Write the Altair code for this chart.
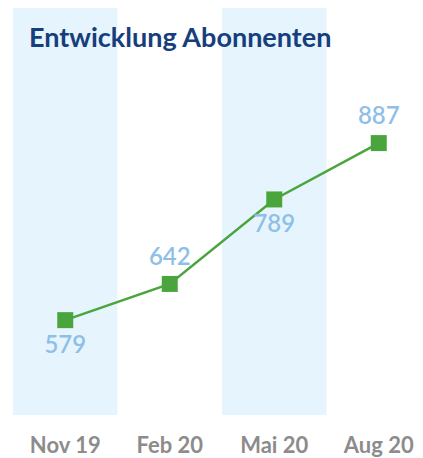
import altair as alt
import pandas as pd

months = ["Nov 19", "Feb 20", "Mai 20", "Aug 20"]
subscribers = [579, 642, 789, 887]
band_months = ["Nov 19", "Mai 20"]
labels_below = ["Nov 19", "Mai 20"]
labels_above = ["Feb 20", "Aug 20"]
title_text = "Entwicklung Abonnenten"

df = pd.DataFrame({"month": months, "value": subscribers})
bands = pd.DataFrame({"month": band_months})

FONT = "Lato"
GREEN = "#4aa53c"
LABEL = "#8fbfe7"

x_scale = alt.Scale(domain=months, range=[0, 418], paddingInner=0, paddingOuter=0)
x_axis = alt.Axis(title=None, domain=False, ticks=False, grid=False, labelAngle=0,
                  labelFont=FONT, labelFontSize=22, labelFontWeight="bold",
                  labelColor="#8c8c8c", labelPadding=20)
y_scale = alt.Scale(domain=[414, 1122], zero=False, nice=False)

band_layer = alt.Chart(bands).mark_rect(color="#e6f5fd").encode(
    x=alt.X("month:N", scale=x_scale, axis=x_axis, sort=months)
)

line = alt.Chart(df).mark_line(color=GREEN, strokeWidth=2.5).encode(
    x=alt.X("month:N", scale=x_scale, sort=months),
    y=alt.Y("value:Q", scale=y_scale, axis=None),
)
points = alt.Chart(df).mark_square(color=GREEN, size=256, opacity=1).encode(
    x=alt.X("month:N", scale=x_scale, sort=months),
    y=alt.Y("value:Q", scale=y_scale, axis=None),
)

below = alt.Chart(df).transform_filter(
    alt.FieldOneOfPredicate(field="month", oneOf=labels_below)
).mark_text(font=FONT, fontSize=24, fontWeight=600, color=LABEL, baseline="middle", dy=26).encode(
    x=alt.X("month:N", scale=x_scale, sort=months),
    y=alt.Y("value:Q", scale=y_scale, axis=None),
    text="value:Q",
)
above = alt.Chart(df).transform_filter(
    alt.FieldOneOfPredicate(field="month", oneOf=labels_above)
).mark_text(font=FONT, fontSize=24, fontWeight=600, color=LABEL, baseline="middle", dy=-26).encode(
    x=alt.X("month:N", scale=x_scale, sort=months),
    y=alt.Y("value:Q", scale=y_scale, axis=None),
    text="value:Q",
)

title = alt.Chart(pd.DataFrame({"t": [title_text]})).mark_text(
    font=FONT, fontSize=27, fontWeight="bold", color="#173e7c",
    align="left", baseline="alphabetic"
).encode(x=alt.value(16), y=alt.value(39), text="t:N")

chart = alt.layer(band_layer, line, points, below, above, title).properties(
    width=402, height=407,
    padding={"left": 5, "top": 0, "right": 0, "bottom": 43},
    autosize=alt.AutoSizeParams(type="none"),
    background="white",
).configure_view(stroke=None)

chart.save("out.html", embed_options={"renderer": "svg", "actions": False})
